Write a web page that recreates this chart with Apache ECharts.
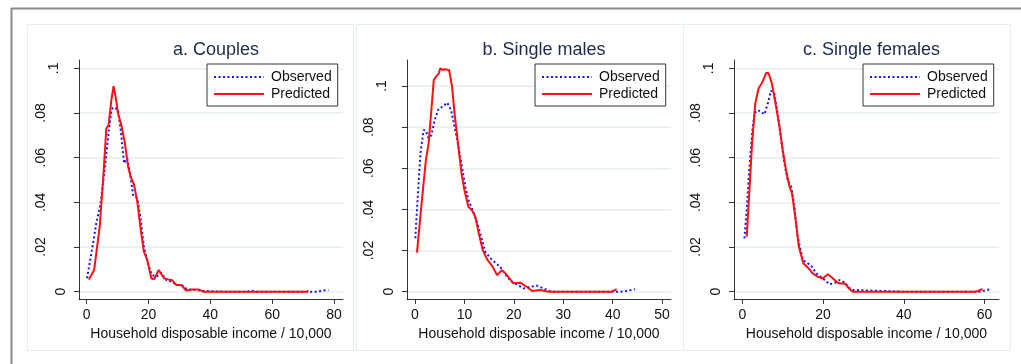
<!DOCTYPE html>
<html>
<head>
<meta charset="utf-8">
<script src="https://cdn.jsdelivr.net/npm/echarts@6/dist/echarts.min.js"></script>
<style>
html,body{margin:0;padding:0;background:#fff;}
#chart{width:1021px;height:364px;}
</style>
</head>
<body>
<div id="chart"></div>
<script>
// ---- data ----
const panelTitles = ['a. Couples', 'b. Single males', 'c. Single females'];
const seriesNames = ['Observed', 'Predicted'];
const xAxisTitle = 'Household disposable income / 10,000';

const yTicks = [0, 0.02, 0.04, 0.06, 0.08, 0.1];
const xTicksA = [0, 20, 40, 60, 80];
const xTicksB = [0, 10, 20, 30, 40, 50];
const xTicksC = [0, 20, 40, 60];

// a. Couples
const obsA_x = [0.1, 1.5, 3.1, 4.5, 5.8, 6.9, 8.0, 8.5, 10.1, 11.0, 12.1, 13.1, 14.2, 15.0, 16.4, 17.5, 18.5, 19.8, 21.1, 22.5, 24.1, 25.8, 27.5, 29.0, 30.5, 31.7, 32.4, 35, 38, 45, 52, 53, 55, 65, 74, 78.2];
const obsA_y = [0.006, 0.017, 0.0306, 0.0396, 0.0545, 0.069, 0.0813, 0.0825, 0.0816, 0.0724, 0.0575, 0.0597, 0.0515, 0.0433, 0.0418, 0.0321, 0.0201, 0.0127, 0.0075, 0.0067, 0.0085, 0.0052, 0.0045, 0.003, 0.003, 0.0022, 0.001, 0.0008, 0.0003, 0, 0, 0.0005, 0, 0, 0, 0.0008];
const predA_x = [0.7, 2.4, 4.2, 5.3, 6.35, 7.1, 8.0, 8.7, 9.4, 10.1, 11.2, 12.3, 13.4, 14.2, 15.3, 16.4, 17.5, 18.5, 19.6, 20.9, 21.8, 23.3, 25.0, 26.3, 27.6, 29.0, 30.6, 32.2, 34.0, 36.1, 37.7, 42.0, 42.6, 43.4, 50, 60, 71.2, 71.7];
const predA_y = [0.0055, 0.0097, 0.029, 0.050, 0.073, 0.0746, 0.086, 0.092, 0.087, 0.080, 0.0746, 0.067, 0.056, 0.0515, 0.048, 0.040, 0.0276, 0.0179, 0.0142, 0.006, 0.0055, 0.0097, 0.006, 0.0055, 0.0052, 0.003, 0.003, 0.0005, 0.001, 0.001, 0, 0, 0.0005, 0, 0, 0, 0, 0.0005];

// b. Single males
const obsB_x = [0.06, 0.6, 1.1, 1.75, 2.2, 2.75, 3.3, 4.0, 4.8, 5.6, 6.5, 7.3, 8.0, 8.8, 9.5, 10.2, 10.8, 11.8, 12.5, 13.4, 14.2, 15.6, 17.2, 18.6, 19.6, 22.0, 23.3, 24.7, 26.0, 27.6, 35, 41.5, 42.7, 44.5];
const obsB_y = [0.026, 0.0478, 0.0673, 0.0786, 0.0783, 0.0746, 0.076, 0.0835, 0.0891, 0.0899, 0.0919, 0.0883, 0.0802, 0.0705, 0.0608, 0.051, 0.0446, 0.0389, 0.034, 0.0267, 0.0194, 0.0154, 0.0122, 0.0073, 0.0049, 0.0016, 0.0024, 0.0029, 0.0016, 0, 0, 0, 0.0003, 0.0012];
const predB_x = [0.4, 1.4, 2.2, 2.75, 3.3, 3.8, 4.4, 4.8, 5.1, 5.6, 6.1, 6.9, 7.5, 8.0, 8.7, 9.4, 10.0, 10.8, 11.5, 12.2, 12.9, 13.7, 14.6, 15.7, 16.6, 17.6, 18.6, 19.9, 21.3, 22.6, 23.7, 25.3, 27.0, 35, 39.8, 40.8];
const predB_y = [0.019, 0.0446, 0.064, 0.072, 0.088, 0.103, 0.105, 0.106, 0.1086, 0.1078, 0.1081, 0.1078, 0.0997, 0.0867, 0.0721, 0.0576, 0.0494, 0.0413, 0.0397, 0.0365, 0.0284, 0.0203, 0.0157, 0.0122, 0.0081, 0.0105, 0.0081, 0.0041, 0.0044, 0.0024, 0.0003, 0.0008, 0, 0, 0, 0.0012];

// c. Single females
const obsC_x = [0.5, 1.07, 1.7, 2.4, 3.0, 3.8, 4.6, 5.45, 6.3, 7.1, 7.9, 8.75, 9.6, 10.4, 11.2, 12.1, 12.9, 13.7, 15.0, 16.2, 17.1, 18.3, 20.4, 21.6, 22.9, 24.1, 25.4, 27.0, 40, 58.8, 61.3];
const obsC_y = [0.0239, 0.0366, 0.0545, 0.0709, 0.0799, 0.0813, 0.0806, 0.0794, 0.0843, 0.09, 0.0888, 0.0799, 0.0679, 0.0575, 0.05, 0.047, 0.038, 0.0246, 0.0142, 0.0127, 0.0115, 0.0082, 0.0052, 0.0033, 0.004, 0.0052, 0.004, 0.0008, 0, 0, 0.001];
const predC_x = [1.07, 1.7, 2.4, 3.2, 4.0, 5.0, 5.9, 6.5, 7.3, 8.2, 9.2, 10.0, 10.8, 11.7, 12.3, 13.1, 14.0, 15.1, 16.4, 17.4, 18.7, 19.9, 21.2, 22.4, 23.6, 24.4, 25.4, 26.6, 27.4, 40, 58.0, 59.5];
const predC_y = [0.0246, 0.044, 0.0664, 0.0843, 0.091, 0.094, 0.098, 0.0978, 0.0933, 0.0843, 0.0739, 0.0634, 0.0545, 0.047, 0.044, 0.0336, 0.0201, 0.0127, 0.0105, 0.0082, 0.0067, 0.006, 0.0078, 0.006, 0.004, 0.0037, 0.0037, 0.0011, 0, 0, 0, 0.0012];

// ---- layout ----
const FONT = '"Liberation Sans", Arial, sans-serif';
const panels = [
  { grid: { left: 79, top: 60, width: 264, height: 239 }, xmin: -2.49, xmax: 82.9, ymin: -0.00327, ymax: 0.10372, xticks: xTicksA,
    obs: [obsA_x, obsA_y], pred: [predA_x, predA_y], box: [27, 24, 326, 326], legendLeft: 207 },
  { grid: { left: 407, top: 60, width: 264, height: 239 }, xmin: -1.62, xmax: 51.8, ymin: -0.00355, ymax: 0.11264, xticks: xTicksB,
    obs: [obsB_x, obsB_y], pred: [predB_x, predB_y], box: [356, 24, 327, 326], legendLeft: 535 },
  { grid: { left: 734, top: 60, width: 265, height: 239 }, xmin: -2.08, xmax: 63.6, ymin: -0.00327, ymax: 0.10372, xticks: xTicksC,
    obs: [obsC_x, obsC_y], pred: [predC_x, predC_y], box: [683, 24, 327, 326], legendLeft: 863 }
];

function zip(xs, ys) { return xs.map((x, i) => [x, ys[i]]); }
function yFmt(v) {
  if (Math.abs(v) < 1e-9) return '{z|0}';
  const s = String(+v.toFixed(2)).replace(/^0/, '');
  return s.length <= 2 ? '{s|' + s + '}' : '{l|' + s + '}';
}
const yRich = {
  z: { fontFamily: FONT, fontSize: 14, color: '#111', padding: [0, 0, 0, 0] },
  s: { fontFamily: FONT, fontSize: 14, color: '#111', padding: [0, 0, 7, 0] },
  l: { fontFamily: FONT, fontSize: 14, color: '#111', padding: [0, 0, 20, 0] }
};

const option = {
  backgroundColor: '#ffffff',
  animation: false,
  textStyle: { fontFamily: FONT },
  graphic: [],
  title: [], legend: [], grid: [], xAxis: [], yAxis: [], series: []
};

// outer frame
option.graphic.push({ type: 'line', shape: { x1: 11, y1: 8.5, x2: 1021, y2: 8.5 }, style: { stroke: '#8a8a8a', lineWidth: 2 }, z: -1 });
option.graphic.push({ type: 'line', shape: { x1: 11.5, y1: 8, x2: 11.5, y2: 364 }, style: { stroke: '#8a8a8a', lineWidth: 2 }, z: -1 });

panels.forEach((p, i) => {
  option.graphic.push({ type: 'rect', shape: { x: p.box[0] + 0.5, y: p.box[1] + 0.5, width: p.box[2], height: p.box[3] },
    style: { fill: '#ffffff', stroke: '#e4eef1', lineWidth: 1 }, z: -2 });
  option.grid.push(Object.assign({ containLabel: false }, p.grid));
  option.title.push({
    text: panelTitles[i],
    left: p.grid.left + p.grid.width / 2, top: 36, textAlign: 'center',
    textStyle: { fontFamily: FONT, fontSize: 18, fontWeight: 'normal', color: '#1c2b4d' }
  });
  option.legend.push({
    data: seriesNames,
    orient: 'vertical',
    left: p.legendLeft, top: 64,
    padding: [6, 6, 5, 6],
    itemGap: 3,
    itemWidth: 50, itemHeight: 16,
    borderColor: '#333', borderWidth: 1, borderRadius: 0,
    backgroundColor: '#fff',
    selectedMode: false,
    itemStyle: { opacity: 0 },
    textStyle: { fontFamily: FONT, fontSize: 14, color: '#111', padding: [0, 0, 0, 2] }
  });
  option.xAxis.push({
    type: 'value', gridIndex: i, min: p.xmin, max: p.xmax,
    name: xAxisTitle, nameLocation: 'middle', nameGap: 24,
    nameTextStyle: { fontFamily: FONT, fontSize: 14, color: '#111' },
    axisLine: { show: true, onZero: false, lineStyle: { color: '#333', width: 1 } },
    axisTick: { show: true, length: 5, customValues: p.xticks, lineStyle: { color: '#333' } },
    axisLabel: { customValues: p.xticks, fontFamily: FONT, fontSize: 14, color: '#111', margin: 9 },
    splitLine: { show: false }
  });
  option.yAxis.push({
    type: 'value', gridIndex: i, min: p.ymin, max: p.ymax,
    axisLine: { show: true, onZero: false, lineStyle: { color: '#333', width: 1 } },
    axisTick: { show: true, length: 5, customValues: yTicks, lineStyle: { color: '#333' } },
    axisLabel: { customValues: yTicks, rotate: 90, fontFamily: FONT, fontSize: 14, color: '#111', margin: 11, formatter: yFmt, rich: yRich },
    splitLine: { show: true, lineStyle: { color: '#e3eef0', width: 1.5 } }
  });
  option.series.push({
    name: seriesNames[0], type: 'line', xAxisIndex: i, yAxisIndex: i,
    data: zip(p.obs[0], p.obs[1]), symbol: 'none', showSymbol: false, z: 2,
    color: '#1414ff',
    lineStyle: { color: '#1414ff', width: 2, type: [2, 2.5] }
  });
  option.series.push({
    name: seriesNames[1], type: 'line', xAxisIndex: i, yAxisIndex: i,
    data: zip(p.pred[0], p.pred[1]), symbol: 'none', showSymbol: false, z: 3,
    color: '#ff1010',
    lineStyle: { color: '#ff1010', width: 2, type: 'solid' }
  });
});

const chart = echarts.init(document.getElementById('chart'), null, { renderer: 'canvas' });
chart.setOption(option);
</script>
</body>
</html>
